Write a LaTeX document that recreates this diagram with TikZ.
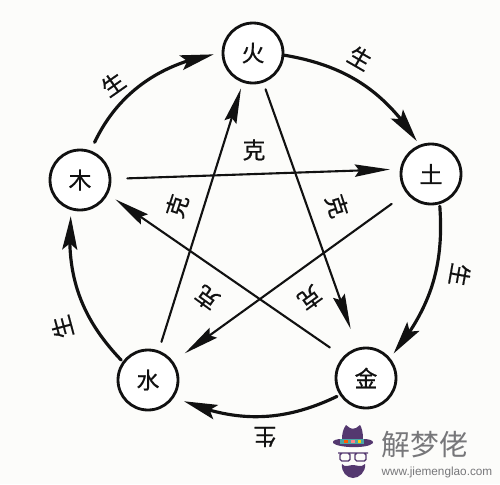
\documentclass[tikz,border=0pt]{standalone}
\usepackage{fontspec}
\setmainfont{Liberation Sans}
\newfontfamily\cjk{Noto Sans CJK SC}
\newfontfamily\cjkm{Noto Sans CJK SC}[FakeBold=0.6]
\usetikzlibrary{arrows.meta,bending}
\definecolor{ink}{HTML}{111111}
\definecolor{paper}{HTML}{FCFCFA}
\definecolor{hatp}{HTML}{54386F}
\definecolor{wmgray}{HTML}{77777A}
\tikzset{
  x=0.02cm,y=-0.02cm,
  el/.style={circle,draw=ink,line width=1.6pt,fill=white,minimum size=1.2cm,inner sep=0pt,font=\cjkm\fontsize{13}{13}\selectfont,text=ink},
  lab/.style={inner sep=0pt,font=\cjkm\fontsize{13}{13}\selectfont,text=ink},
  ringarc/.style={draw=ink,line width=1.8pt,line cap=round,-{Stealth[length=19pt,width=8.5pt,inset=3.5pt,flex'=0.9]}},
  starline/.style={draw=ink,line width=1.2pt,line cap=round,-{Stealth[length=20pt,width=7pt,inset=2.5pt]}},
}
\begin{document}
\begin{tikzpicture}
\useasboundingbox (0,0) rectangle (500,484);
\fill[paper] (0,0) rectangle (500,484);
\node[el] (huo) at (253,53) {火};
\node[el] (tu) at (431,174) {土};
\node[el] (jin) at (366,378) {金};
\node[el] (shui) at (148,380) {水};
\node[el] (mu) at (80,180) {木};
% ring
\draw[ringarc,shorten <=0.18cm,shorten >=0.16cm] (mu.70.6) to[bend left=28] (huo.180);
\draw[ringarc,shorten >=0.09cm] (huo.-4) to[bend left=24] (tu.112);
\draw[ringarc,shorten <=0.04cm,shorten >=0.11cm] (tu.-74) to[bend left=22] (jin.40);
\draw[ringarc,shorten <=0.06cm,shorten >=0.21cm] (jin.-147) to[bend left=25] (shui.-33);
\draw[ringarc,shorten <=0.04cm,shorten >=0.12cm] (shui.144) to[bend left=25] (mu.-106);
% star
\draw[starline,shorten <=0.32cm,shorten >=0.2cm] (mu.2.5) -- (tu.171.5);
\draw[starline,shorten <=0.36cm,shorten >=0.28cm] (tu.-142.6) -- (shui.36);
\draw[starline,shorten <=0.18cm,shorten >=0.12cm] (shui.70.6) -- (huo.-109.4);
\draw[starline,shorten <=0.14cm,shorten >=0.4cm] (huo.-71) -- (jin.106);
\draw[starline,shorten <=0.32cm,shorten >=0.18cm] (jin.137.6) -- (mu.-27);
% labels
\node[lab,rotate=35] (s1) at (113,84) {生};
\node[lab,rotate=-30] (s2) at (360,58) {生};
\node[lab,rotate=-100] (s3) at (460,275) {生};
\node[lab,rotate=180] (s4) at (265,437) {生};
\node[lab,rotate=105] (s5) at (62,327) {生};
\node[lab] (k1) at (254,150) {克};
\node[lab,rotate=-72] (k2) at (337,206) {克};
\node[lab,rotate=-144] (k3) at (310,298) {克};
\node[lab,rotate=144] (k4) at (207,298) {克};
\node[lab,rotate=72] (k5) at (177,206) {克};
% watermark
\fill[hatp] (333,443) .. controls (338,448) and (368,449) .. (373,443) .. controls (374,440) and (368,439) .. (363,439) .. controls (363,433) and (362,428) .. (360,425) -- (356,428) .. controls (353,429) and (352,429) .. (350,428) -- (346,425) .. controls (343,429) and (342,434) .. (342,439) .. controls (337,439) and (332,440) .. (333,443) -- cycle;
\fill[teal!70!white] (340,439) -- (364,439) -- (364,444) -- (340,444) -- cycle;
\fill[orange!70!red] (344,440) rectangle (348,443);
\fill[pink!70!red] (351,440) rectangle (355,443);
\fill[yellow!70!orange] (358,440) rectangle (361,443);
\draw[hatp,line width=0.8pt,rounded corners=1pt] (340,453) rectangle (350,461) (355,453) rectangle (366,461) (338,453) -- (368,453);
\fill[hatp] (342,464) .. controls (345,468) and (349,465) .. (353,465) .. controls (357,465) and (361,468) .. (365,464) .. controls (366,472) and (359,478) .. (353,478) .. controls (347,478) and (341,472) .. (342,464) -- cycle;
\node[inner sep=0pt,font=\cjk\fontsize{16.4}{17}\selectfont,text=wmgray] (wm) at (425,445) {解梦佬};
\node[inner sep=0pt,font=\fontsize{6.7}{7}\selectfont,text=wmgray] (url) at (437,472) {www.jiemenglao.com};
\end{tikzpicture}
\end{document}
